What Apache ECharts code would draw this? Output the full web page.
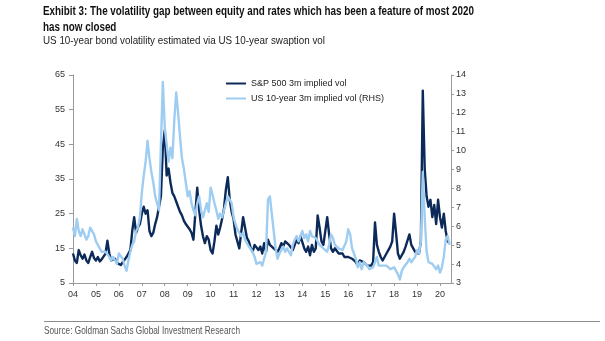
<!DOCTYPE html>
<html>
<head>
<meta charset="utf-8">
<script src="https://cdn.jsdelivr.net/npm/echarts@6/dist/echarts.min.js"></script>
<style>
  html, body { margin: 0; padding: 0; background: #ffffff; }
  #chart { width: 605px; height: 341px; }
</style>
</head>
<body>
<div id="chart"></div>
<script>
// Monthly readings, starting January of the first labelled year
const firstYear = 2004;
const yearLabels = ['04', '05', '06', '07', '08', '09', '10', '11', '12', '13', '14', '15', '16', '17', '18', '19', '20'];
const leftTicks = [5, 15, 25, 35, 45, 55, 65];

// S&P 500 3m implied vol (left axis)
const spxVol = [
  13.5, 11.5, 10.8, 14.5, 13, 12, 13.2, 11.5, 10.8, 12.5, 14, 12.2,
  11.5, 12.5, 11.2, 11.8, 12, 13.5, 17.2, 13.5, 11.5, 11.2, 12, 10.8,
  10.5, 10.2, 11, 11.5, 12.5, 13, 14.5, 20, 24, 19.5, 21, 22,
  25, 27, 25, 26, 20, 18.5, 19.5, 22, 24, 23.5, 30, 44,
  49, 36, 38, 34, 31, 30, 28.5, 27, 25.5, 24.5, 23, 22,
  21.5, 20.5, 19.5, 17.5, 17, 32.5, 26, 21.5, 18.5, 16.5, 18.5, 17.5,
  14.5, 13.5, 17, 21.5, 19, 21, 23.5, 26.5, 32, 35.5, 29, 25.5,
  23.5, 19, 17, 15, 19.5, 24, 21, 18, 17, 15, 14, 16,
  16, 14.5, 15.5, 13.5, 16.5, 14, 17.5, 16, 16.5, 15, 15.5, 14,
  15, 16.5, 15.5, 17, 17.5, 16, 15.5, 14.5, 15, 17.5, 16.5, 18.5,
  19, 15, 14, 15.5, 13, 16, 14, 15, 24.5, 21, 17, 16,
  16, 24, 19, 15, 14, 15, 14.5, 13.5, 13, 13.5, 12.5, 12.5,
  12.5, 13, 12, 11.5, 11, 10, 11.5, 12, 11, 10.5, 10, 10.5,
  10, 11, 22.5, 16, 14, 12.5, 11.5, 12, 13.5, 14.5, 15.5, 17,
  25, 19.5, 13.5, 12, 13, 14, 15.5, 16, 19, 16, 15, 14,
  14, 13.5, 17, 60.5, 38, 30, 27, 29, 24, 27.5, 22, 29,
  24, 21, 25, 20, 17, 16.5
];

// US 10-year 3m implied vol (right axis)
const rateVol = [
  5.93, 5.48, 6.39, 5.75, 5.48, 5.84, 5.57, 5.29, 5.48, 5.93, 5.84, 5.57,
  5.2, 5.02, 4.93, 4.65, 4.74, 4.65, 4.56, 4.38, 4.19, 4.38, 4.19, 4.01,
  4.56, 4.47, 4.28, 3.92, 3.64, 4.19, 4.65, 5.02, 5.2, 5.75, 5.93, 6.48,
  7.77, 8.68, 9.42, 10.52, 9.6, 8.87, 8.32, 7.58, 7.22, 6.85, 10.33, 13.63,
  11.25, 10.33, 9.42, 10.15, 9.6, 11.62, 13.08, 11.98, 10.7, 9.6, 9.05, 8.32,
  7.58, 7.86, 7.22, 6.85, 6.58, 7.22, 7.58, 6.85, 6.48, 6.85, 7.22, 6.76,
  8.04, 7.68, 7.22, 6.85, 6.39, 6.67, 6.48, 6.85, 7.22, 7.58, 7.49, 7.22,
  6.48, 6.12, 5.84, 5.93, 5.48, 5.66, 5.29, 5.11, 4.93, 4.83, 4.65, 4.38,
  4.01, 4.1, 4.1, 3.92, 4.28, 4.65, 7.4, 7.58, 6.67, 5.75, 4.83, 4.28,
  4.56, 4.74, 4.93, 4.65, 4.83, 4.65, 4.47, 5.02, 5.29, 5.48, 5.2, 5.29,
  5.75, 5.38, 5.57, 5.2, 5.75, 5.48, 5.57, 5.38, 5.2, 5.02, 4.93, 4.83,
  4.74, 4.65, 5.02, 5.57, 5.38, 5.02, 4.93, 4.83, 4.93, 4.74, 4.83, 5.2,
  5.84, 5.57, 4.83, 4.56, 4.28, 3.83, 4.1, 3.73, 4.1, 4.01, 3.92, 3.73,
  3.73, 3.83, 4.1, 4.38, 3.92, 4.01, 3.92, 3.83, 3.92, 4.01, 3.73, 3.83,
  3.83, 3.73, 3.46, 3.18, 3.64, 3.83, 3.92, 4.1, 4.28, 4.1, 4.19, 4.38,
  4.74, 4.56, 5.2, 8.87, 6.48, 4.65, 4.1, 4.19, 4.01, 4.1, 3.73, 3.92,
  3.55, 3.83, 4.38, 5.29, 5.48, 5.02
];

const TITLE_1 = 'Exhibit 3: The volatility gap between equity and rates which has been a feature of most 2020';
const TITLE_2 = 'has now closed';
const SUBTITLE = 'US 10-year bond volatility estimated via US 10-year swaption vol';
const SOURCE = 'Source: Goldman Sachs Global Investment Research';

const NAVY = '#0c2a59';
const SKY = '#9fcdf1';

const monthX = i => firstYear + i / 12;
const spxData = spxVol.map((v, i) => [monthX(i), v]);
const rateData = rateVol.map((v, i) => [monthX(i), v]);
const yearTicks = yearLabels.map((_, k) => firstYear + k);

// Condensed house font: squeeze a text run horizontally to its set width
const measureCtx = document.createElement('canvas').getContext('2d');
function squeeze(text, font, width) {
  measureCtx.font = font;
  return width / measureCtx.measureText(text).width;
}
const titleFont = 'bold 12px "Liberation Sans Narrow", "Liberation Sans", Arial, sans-serif';
const bodyFont = '11.5px "Liberation Sans Narrow", "Liberation Sans", Arial, sans-serif';
const sourceFont = '10.5px "Liberation Sans Narrow", "Liberation Sans", Arial, sans-serif';
const titleScale = squeeze(TITLE_1, titleFont, 431);
const subScale = squeeze(SUBTITLE, bodyFont, 282);
const sourceScale = squeeze(SOURCE, sourceFont, 196);

const chart = echarts.init(document.getElementById('chart'), null, { renderer: 'canvas' });

const axisGrey = '#9a9a9a';
const labelColor = '#333333';
const labelFont = 'Liberation Sans, Arial, sans-serif';

chart.setOption({
  animation: false,
  backgroundColor: '#ffffff',
  grid: { left: 73, right: 154, top: 75, bottom: 58, containLabel: false },
  legend: {
    orient: 'vertical',
    left: 221,
    top: 74,
    itemWidth: 20,
    itemHeight: 2,
    itemGap: 6,
    icon: 'rect',
    textStyle: { fontSize: 9, color: '#222222', fontFamily: labelFont },
    data: ['S&P 500 3m implied vol', 'US 10-year 3m implied vol (RHS)']
  },
  xAxis: {
    type: 'value',
    min: 2004,
    max: 2020.48,
    axisLine: { lineStyle: { color: axisGrey, width: 1 } },
    axisTick: { show: true, length: 3, inside: false, customValues: yearTicks, lineStyle: { color: axisGrey } },
    axisLabel: {
      customValues: yearTicks,
      formatter: v => yearLabels[Math.round(v) - firstYear],
      color: labelColor, fontSize: 9, fontFamily: labelFont, margin: 7
    },
    splitLine: { show: false }
  },
  yAxis: [
    {
      type: 'value',
      min: 5,
      max: 65,
      position: 'left',
      axisLine: { show: true, lineStyle: { color: axisGrey, width: 1 } },
      axisTick: { show: true, length: 4, customValues: leftTicks, lineStyle: { color: axisGrey } },
      axisLabel: { customValues: leftTicks, color: labelColor, fontSize: 9, fontFamily: labelFont, margin: 8 },
      splitLine: { show: false }
    },
    {
      type: 'value',
      min: 3,
      max: 14,
      interval: 1,
      position: 'right',
      axisLine: { show: true, lineStyle: { color: axisGrey, width: 1 } },
      axisTick: { show: true, length: 3, lineStyle: { color: axisGrey } },
      axisLabel: { color: labelColor, fontSize: 9, fontFamily: labelFont, margin: 5 },
      splitLine: { show: false }
    }
  ],
  series: [
    {
      name: 'S&P 500 3m implied vol',
      type: 'line',
      yAxisIndex: 0,
      data: spxData,
      showSymbol: false,
      symbol: 'none',
      color: NAVY,
      lineStyle: { color: NAVY, width: 2.4, join: 'round' },
      z: 2
    },
    {
      name: 'US 10-year 3m implied vol (RHS)',
      type: 'line',
      yAxisIndex: 1,
      data: rateData,
      showSymbol: false,
      symbol: 'none',
      color: SKY,
      lineStyle: { color: SKY, width: 2.4, join: 'round' },
      z: 3
    }
  ],
  graphic: [
    { type: 'text', x: 43, y: 11.5, scaleX: titleScale,
      style: { text: TITLE_1, font: titleFont, fill: '#111111', verticalAlign: 'middle' } },
    { type: 'text', x: 43, y: 27.8, scaleX: titleScale,
      style: { text: TITLE_2, font: titleFont, fill: '#111111', verticalAlign: 'middle' } },
    { type: 'text', x: 43, y: 41.2, scaleX: subScale,
      style: { text: SUBTITLE, font: bodyFont, fill: '#222222', verticalAlign: 'middle' } },
    { type: 'line', shape: { x1: 44, y1: 321.5, x2: 600, y2: 321.5 },
      style: { stroke: '#8c8c8c', lineWidth: 1 } },
    { type: 'text', x: 44, y: 331, scaleX: sourceScale,
      style: { text: SOURCE, font: sourceFont, fill: '#555555', verticalAlign: 'middle' } }
  ]
});
</script>
</body>
</html>
